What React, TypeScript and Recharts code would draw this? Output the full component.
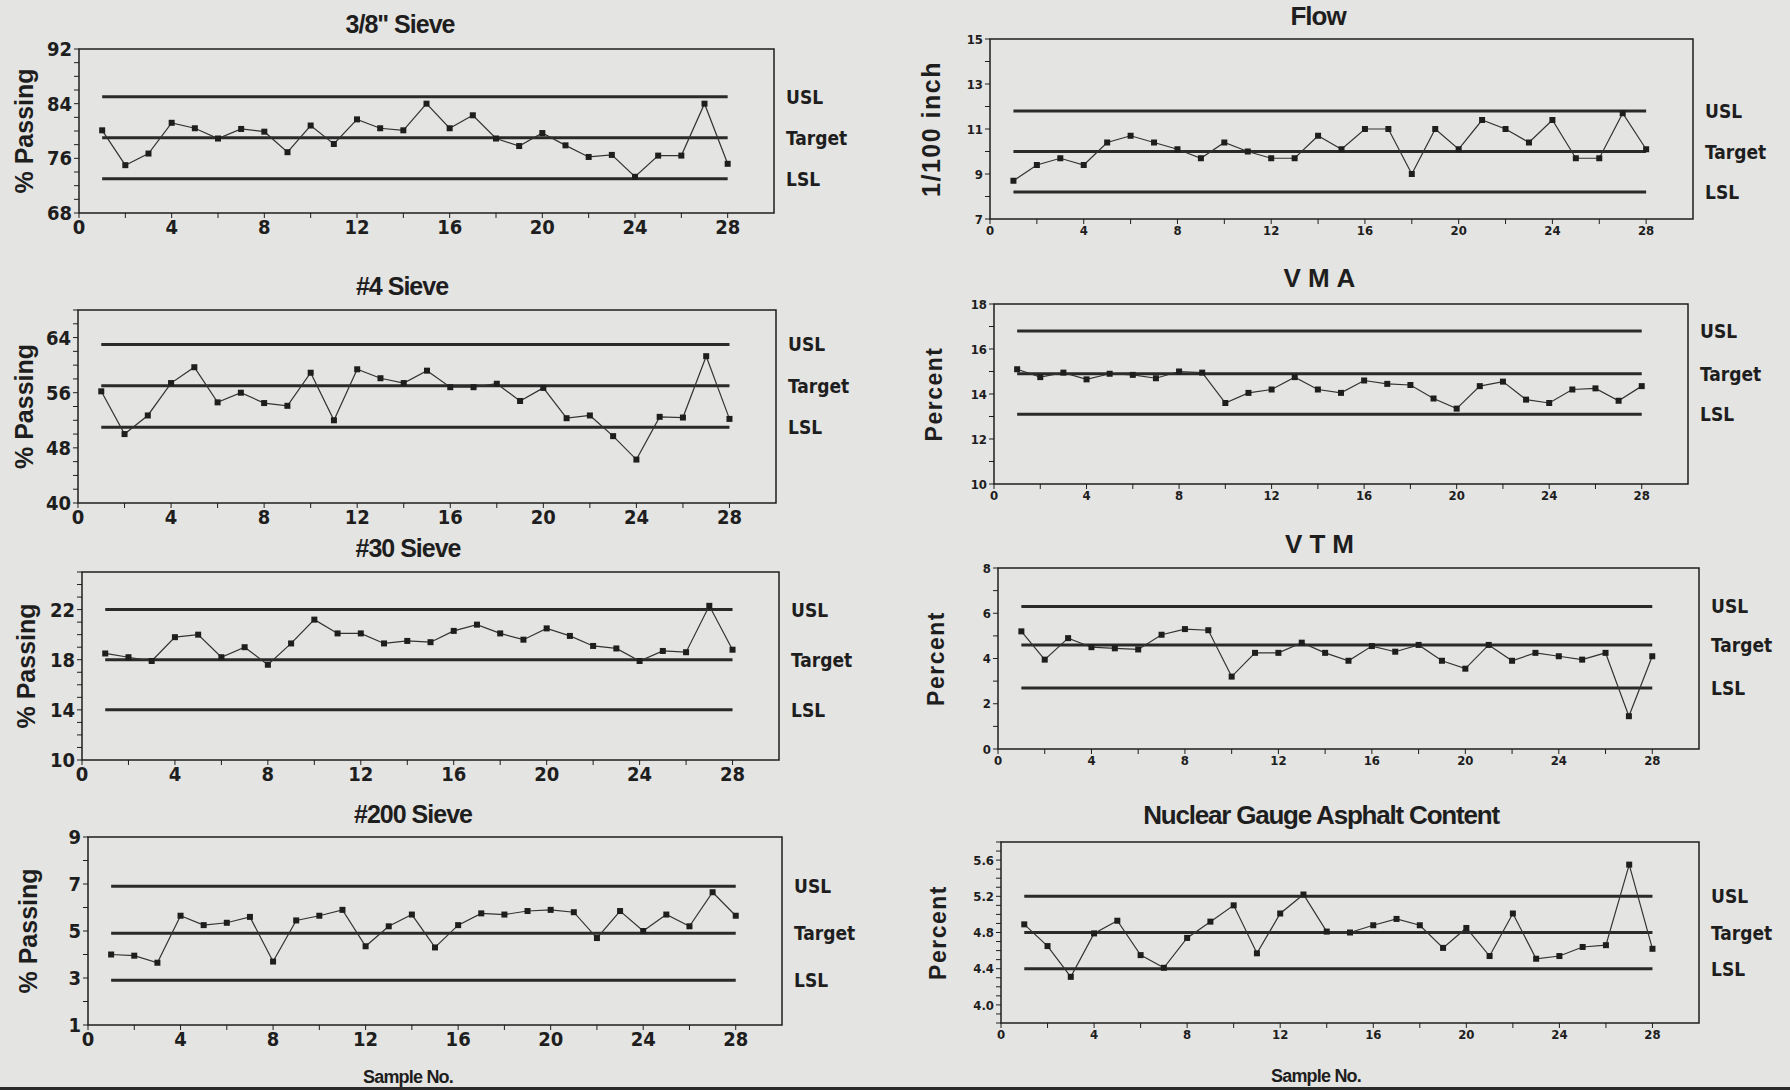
import React from 'react';
import { LineChart, Line, XAxis, YAxis, ReferenceLine, ReferenceArea } from 'recharts';

// sample numbers along the x axis
const SAMPLES = [1, 2, 3, 4, 5, 6, 7, 8, 9, 10, 11, 12, 13, 14, 15, 16, 17, 18, 19, 20, 21, 22, 23, 24, 25, 26, 27, 28];
const X_TICKS = [0, 2, 4, 6, 8, 10, 12, 14, 16, 18, 20, 22, 24, 26, 28];
const X_LABELS = [0, 4, 8, 12, 16, 20, 24, 28];

// measured values per chart
const SIEVE_3_8 = [80.1, 75.0, 76.7, 81.2, 80.4, 78.9, 80.3, 79.9, 76.9, 80.8, 78.1, 81.7, 80.4, 80.1, 84.0, 80.4, 82.3, 78.9, 77.8, 79.7, 77.9, 76.2, 76.5, 73.3, 76.4, 76.4, 84.0, 75.2];
const SIEVE_4 = [56.2, 50.0, 52.7, 57.4, 59.7, 54.6, 56.0, 54.5, 54.1, 58.9, 52.0, 59.4, 58.1, 57.4, 59.2, 56.8, 56.8, 57.3, 54.8, 56.7, 52.3, 52.7, 49.7, 46.3, 52.5, 52.4, 61.3, 52.2];
const SIEVE_30 = [18.5, 18.2, 17.9, 19.8, 20.0, 18.2, 19.0, 17.6, 19.3, 21.2, 20.1, 20.1, 19.3, 19.5, 19.4, 20.3, 20.8, 20.1, 19.6, 20.5, 19.9, 19.1, 18.9, 17.9, 18.7, 18.6, 22.3, 18.8];
const SIEVE_200 = [4.0, 3.95, 3.65, 5.65, 5.25, 5.35, 5.6, 3.7, 5.45, 5.65, 5.9, 4.35, 5.2, 5.7, 4.3, 5.25, 5.75, 5.7, 5.85, 5.9, 5.8, 4.7, 5.85, 5.0, 5.7, 5.2, 6.65, 5.65];
const FLOW = [8.7, 9.4, 9.7, 9.4, 10.4, 10.7, 10.4, 10.1, 9.7, 10.4, 10.0, 9.7, 9.7, 10.7, 10.1, 11.0, 11.0, 9.0, 11.0, 10.1, 11.4, 11.0, 10.4, 11.4, 9.7, 9.7, 11.7, 10.1];
const VMA = [15.1, 14.75, 14.95, 14.65, 14.9, 14.85, 14.7, 15.0, 14.95, 13.6, 14.05, 14.2, 14.75, 14.2, 14.05, 14.6, 14.45, 14.4, 13.8, 13.35, 14.35, 14.55, 13.75, 13.6, 14.2, 14.25, 13.7, 14.35];
const VTM = [5.2, 3.95, 4.9, 4.5, 4.45, 4.4, 5.05, 5.3, 5.25, 3.2, 4.25, 4.25, 4.7, 4.25, 3.9, 4.55, 4.3, 4.6, 3.9, 3.55, 4.6, 3.9, 4.25, 4.1, 3.95, 4.25, 1.45, 4.1];
const ASPHALT = [4.89, 4.65, 4.31, 4.79, 4.93, 4.55, 4.41, 4.74, 4.92, 5.1, 4.57, 5.01, 5.22, 4.81, 4.8, 4.88, 4.95, 4.88, 4.63, 4.85, 4.54, 5.01, 4.51, 4.54, 4.64, 4.66, 5.55, 4.62];

// spec limits: USL, Target, LSL
const SPEC_NAMES = ['USL', 'Target', 'LSL'];
const SPEC_3_8 = [85, 79, 73];
const SPEC_4 = [63, 57, 51];
const SPEC_30 = [22, 18, 14];
const SPEC_200 = [6.9, 4.9, 2.9];
const SPEC_FLOW = [11.8, 10, 8.2];
const SPEC_VMA = [16.8, 14.9, 13.1];
const SPEC_VTM = [6.3, 4.6, 2.7];
const SPEC_ASPHALT = [5.2, 4.8, 4.4];

// y ticks (all tick marks) and the labelled ones
const Y_TICKS_3_8 = [68, 70, 72, 74, 76, 78, 80, 82, 84, 86, 88, 90, 92];
const Y_LABELS_3_8 = [68, 76, 84, 92];
const Y_TICKS_4 = [40, 42, 44, 46, 48, 50, 52, 54, 56, 58, 60, 62, 64, 66, 68];
const Y_LABELS_4 = [40, 48, 56, 64];
const Y_TICKS_30 = [10, 11, 12, 13, 14, 15, 16, 17, 18, 19, 20, 21, 22, 23, 24, 25];
const Y_LABELS_30 = [10, 14, 18, 22];
const Y_TICKS_200 = [1, 2, 3, 4, 5, 6, 7, 8, 9];
const Y_LABELS_200 = [1, 3, 5, 7, 9];
const Y_TICKS_FLOW = [7, 8, 9, 10, 11, 12, 13, 14, 15];
const Y_LABELS_FLOW = [7, 9, 11, 13, 15];
const Y_TICKS_VMA = [10, 11, 12, 13, 14, 15, 16, 17, 18];
const Y_LABELS_VMA = [10, 12, 14, 16, 18];
const Y_TICKS_VTM = [0, 1, 2, 3, 4, 5, 6, 7, 8];
const Y_LABELS_VTM = [0, 2, 4, 6, 8];
const Y_TICKS_ASPHALT = [3.8, 3.9, 4.0, 4.1, 4.2, 4.3, 4.4, 4.5, 4.6, 4.7, 4.8, 4.9, 5.0, 5.1, 5.2, 5.3, 5.4, 5.5, 5.6, 5.7, 5.8];
const Y_LABELS_ASPHALT = ['4.0', '4.4', '4.8', '5.2', '5.6'];

const NARROW = "'Liberation Sans Narrow', 'Arial Narrow', 'DejaVu Sans Condensed', 'Liberation Sans', sans-serif";
const SANS = "'Liberation Sans', Arial, sans-serif";
const INK = '#1e1e1e';

const ML = 80; // y axis room
const MR = 120; // room for spec labels
const MT = 22; // room so the top tick label is not clipped
const MB = 40;

interface PanelProps {
  title: string;
  titleX: number;
  titleY: number;
  titleSize: number;
  titleSpacing?: number;
  yLabel: string;
  yLabelX: number;
  yLabelSize: number;
  yLabelSpacing?: number;
  values: number[];
  spec: number[];
  yTicks: number[];
  yLabels: (number | string)[];
  digits: number;
  plot: { x: number; y: number; w: number; h: number };
  tickSize: number;
  specSize: number;
}

function squareDot(props: any) {
  const { cx, cy, index } = props;
  if (cx == null || cy == null) return <g key={`d-${index}`} />;
  return <rect key={`d-${index}`} x={cx - 3} y={cy - 3} width={6} height={6} fill={INK} />;
}

function ControlPanel(p: PanelProps) {
  const rows = SAMPLES.map((n, i) => ({ x: n, v: p.values[i] }));
  const yMin = p.yTicks[0];
  const yMax = p.yTicks[p.yTicks.length - 1];
  const width = p.plot.w + ML + MR;
  const height = p.plot.h + MT + MB;
  const left = p.plot.x - ML;
  const top = p.plot.y - MT;
  const unit = p.plot.w / 30;
  const labelSet = p.yLabels.map((l) => String(l));

  return (
    <>
      <div
        style={{
          position: 'absolute',
          left: p.titleX,
          top: p.titleY,
          transform: 'translate(-50%, -50%)',
          whiteSpace: 'nowrap',
          fontFamily: SANS,
          fontWeight: 700,
          fontSize: p.titleSize,
          letterSpacing: p.titleSpacing ?? -1,
          color: INK,
        }}
      >
        {p.title}
      </div>
      <div style={{ position: 'absolute', left, top }}>
        <LineChart width={width} height={height} data={rows} margin={{ top: MT, right: MR, left: 0, bottom: 0 }}>
          <XAxis
            dataKey="x"
            type="number"
            domain={[0, 30]}
            ticks={X_TICKS}
            allowDataOverflow
            height={MB}
            axisLine={false}
            tickSize={5}
            tickLine={{ stroke: INK }}
            tickFormatter={(v: number) => (X_LABELS.includes(v) ? String(v) : '')}
            tick={{ fill: INK, fontSize: p.tickSize, fontFamily: NARROW, fontWeight: 700 }}
            interval={0}
          />
          <YAxis
            type="number"
            domain={[yMin, yMax]}
            ticks={p.yTicks}
            allowDataOverflow
            width={ML}
            axisLine={false}
            tickSize={5}
            tickLine={{ stroke: INK }}
            interval={0}
            tickFormatter={(v: number) => {
              const s = v.toFixed(p.digits);
              return labelSet.includes(s) ? s : '';
            }}
            tick={{ fill: INK, fontSize: p.tickSize, fontFamily: NARROW, fontWeight: 700 }}
            label={{
              content: (lp: any) => {
                const vb = lp.viewBox || { y: 0, height: 0 };
                const cx = p.yLabelX - left;
                const cy = vb.y + vb.height / 2;
                return (
                  <text
                    x={cx}
                    y={cy}
                    transform={`rotate(-90 ${cx} ${cy})`}
                    textAnchor="middle"
                    dominantBaseline="central"
                    fill={INK}
                    fontFamily={SANS}
                    fontWeight={600}
                    fontSize={p.yLabelSize}
                    letterSpacing={p.yLabelSpacing ?? 0}
                  >
                    {p.yLabel}
                  </text>
                );
              },
            }}
          />
          <ReferenceArea x1={0} x2={30} y1={yMin} y2={yMax} fill="none" stroke={INK} strokeWidth={1.5} />
          {p.spec.map((s, i) => (
            <ReferenceLine
              key={SPEC_NAMES[i]}
              segment={[
                { x: 1, y: s },
                { x: 28, y: s },
              ]}
              stroke="#2a2a2a"
              strokeWidth={3}
              label={(lp: any) => {
                const vb = lp.viewBox || { x: 0, y: 0, width: 0 };
                return (
                  <text
                    x={vb.x + vb.width + 2 * unit + 12}
                    y={vb.y}
                    dominantBaseline="central"
                    fill={INK}
                    fontFamily={NARROW}
                    fontWeight={700}
                    fontSize={p.specSize}
                  >
                    {SPEC_NAMES[i]}
                  </text>
                );
              }}
            />
          ))}
          <Line
            dataKey="v"
            type="linear"
            stroke="#333"
            strokeWidth={1.2}
            dot={squareDot}
            activeDot={false}
            isAnimationActive={false}
          />
        </LineChart>
      </div>
    </>
  );
}

export default function App() {
  const left = { tickSize: 20, specSize: 19, titleSize: 25, yLabelSize: 25 };
  const right = { tickSize: 13, specSize: 19, titleSize: 26, yLabelSize: 23 };
  return (
    <div
      style={{
        position: 'absolute',
        left: 0,
        top: 0,
        width: 1790,
        height: 1090,
        background: '#e4e4e2',
        overflow: 'hidden',
      }}
    >
      <ControlPanel
        {...left}
        title={'3/8" Sieve'}
        titleX={400}
        titleY={24}
        yLabel="% Passing"
        yLabelX={24}
        values={SIEVE_3_8}
        spec={SPEC_3_8}
        yTicks={Y_TICKS_3_8}
        yLabels={Y_LABELS_3_8}
        digits={0}
        plot={{ x: 79, y: 49, w: 695, h: 164 }}
      />
      <ControlPanel
        {...left}
        title="#4 Sieve"
        titleX={402}
        titleY={286}
        yLabel="% Passing"
        yLabelX={24}
        values={SIEVE_4}
        spec={SPEC_4}
        yTicks={Y_TICKS_4}
        yLabels={Y_LABELS_4}
        digits={0}
        plot={{ x: 78, y: 310, w: 698, h: 193 }}
      />
      <ControlPanel
        {...left}
        title="#30 Sieve"
        titleX={408}
        titleY={548}
        yLabel="% Passing"
        yLabelX={26}
        values={SIEVE_30}
        spec={SPEC_30}
        yTicks={Y_TICKS_30}
        yLabels={Y_LABELS_30}
        digits={0}
        plot={{ x: 82, y: 572, w: 697, h: 188 }}
      />
      <ControlPanel
        {...left}
        title="#200 Sieve"
        titleX={413}
        titleY={814}
        yLabel="% Passing"
        yLabelX={28}
        values={SIEVE_200}
        spec={SPEC_200}
        yTicks={Y_TICKS_200}
        yLabels={Y_LABELS_200}
        digits={0}
        plot={{ x: 88, y: 837, w: 694, h: 188 }}
      />
      <ControlPanel
        {...right}
        title="Flow"
        titleX={1318}
        titleY={16}
        yLabel="1/100 inch"
        yLabelX={931}
        yLabelSize={25}
        yLabelSpacing={1.5}
        values={FLOW}
        spec={SPEC_FLOW}
        yTicks={Y_TICKS_FLOW}
        yLabels={Y_LABELS_FLOW}
        digits={0}
        plot={{ x: 990, y: 39, w: 703, h: 180 }}
      />
      <ControlPanel
        {...right}
        title="VMA"
        titleSpacing={7}
        titleX={1323}
        titleY={278}
        yLabel="Percent"
        yLabelX={934}
        yLabelSpacing={1.5}
        values={VMA}
        spec={SPEC_VMA}
        yTicks={Y_TICKS_VMA}
        yLabels={Y_LABELS_VMA}
        digits={0}
        plot={{ x: 994, y: 304, w: 694, h: 180 }}
      />
      <ControlPanel
        {...right}
        title="VTM"
        titleSpacing={7}
        titleX={1323}
        titleY={544}
        yLabel="Percent"
        yLabelX={936}
        yLabelSpacing={1.5}
        values={VTM}
        spec={SPEC_VTM}
        yTicks={Y_TICKS_VTM}
        yLabels={Y_LABELS_VTM}
        digits={0}
        plot={{ x: 998, y: 568, w: 701, h: 181 }}
      />
      <ControlPanel
        {...right}
        title="Nuclear Gauge Asphalt Content"
        titleSpacing={-1.2}
        titleX={1321}
        titleY={815}
        yLabel="Percent"
        yLabelX={938}
        yLabelSpacing={1.5}
        values={ASPHALT}
        spec={SPEC_ASPHALT}
        yTicks={Y_TICKS_ASPHALT}
        yLabels={Y_LABELS_ASPHALT}
        digits={1}
        plot={{ x: 1001, y: 842, w: 698, h: 181 }}
      />
      <div style={{ position: 'absolute', left: 408, top: 1077, transform: 'translate(-50%, -50%)', fontFamily: SANS, fontWeight: 700, fontSize: 18, letterSpacing: -0.8, color: INK }}>
        Sample No.
      </div>
      <div style={{ position: 'absolute', left: 1316, top: 1076, transform: 'translate(-50%, -50%)', fontFamily: SANS, fontWeight: 700, fontSize: 18, letterSpacing: -0.8, color: INK }}>
        Sample No.
      </div>
      <div style={{ position: 'absolute', left: 0, top: 1087, width: 1790, height: 3, background: '#2a2a2a' }} />
    </div>
  );
}
